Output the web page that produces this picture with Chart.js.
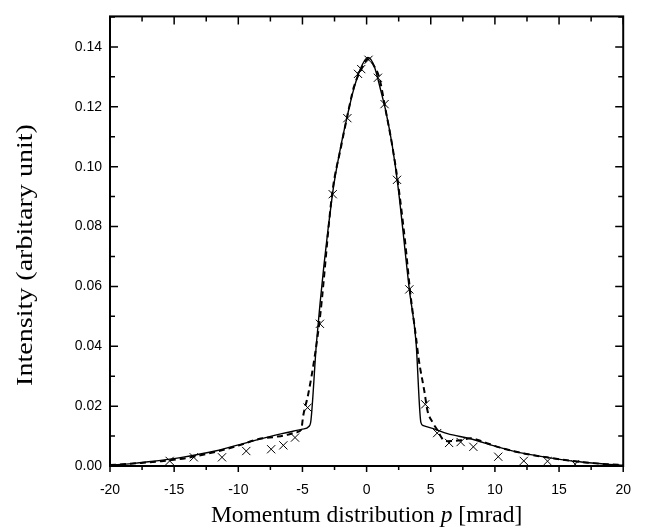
<!DOCTYPE html>
<html lang="en">
<head>
  <meta charset="UTF-8" />
  <title>Momentum distribution</title>
  <script src="https://cdn.jsdelivr.net/npm/chart.js"></script>
  <style>
    html, body { margin: 0; padding: 0; background: #fff; }
    #wrap { width: 647px; height: 529px; position: relative; }
  </style>
</head>
<body>
  <div id="wrap"><canvas id="grafico"></canvas></div>

  <script>
    // solid curve
    const solidP = [-20, -18.3, -17, -14.4, -11.8, -9.2, -6.6, -5.0, -4.5, -4.34, -3.9, -2.67, -2.0, -1.5, -1.06, -0.5, 0.1, 0.6, 1.13, 1.5, 2.0, 2.43, 3.33, 3.85, 4.23, 4.42, 5.2, 6.3, 8.1, 10.2, 12.25, 14.05, 16.6, 18.7, 20];
    const solidI = [0.0003, 0.0008, 0.0014, 0.0029, 0.005, 0.008, 0.0108, 0.0123, 0.0132, 0.0152, 0.0415, 0.0905, 0.107, 0.117, 0.125, 0.1325, 0.1365, 0.1335, 0.125, 0.1185, 0.107, 0.094, 0.059, 0.0415, 0.0146, 0.0135, 0.0125, 0.0108, 0.0091, 0.0064, 0.0042, 0.0029, 0.0014, 0.0006, 0.0003];

    // dashed curve
    const dashP = [-20, -18, -16, -14, -12, -10, -8.4, -7.0, -6.2, -5.5, -5.1, -4.94, -4.55, -4.03, -3.6, -2.67, -2.0, -1.5, -1.0, -0.6, -0.3, 0.1, 0.6, 1.0, 1.5, 2.0, 2.43, 3.0, 3.4, 3.85, 4.05, 4.5, 4.75, 5.14, 5.53, 5.9, 6.3, 7.33, 8.1, 9.0, 10.2, 12.25, 14.05, 16.6, 18.7, 20];
    const dashI = [0.0003, 0.0009, 0.0016, 0.0027, 0.0045, 0.0068, 0.0090, 0.0098, 0.0104, 0.0112, 0.0121, 0.0168, 0.024, 0.037, 0.051, 0.0915, 0.1065, 0.117, 0.1265, 0.131, 0.1335, 0.136, 0.1335, 0.1295, 0.1185, 0.107, 0.095, 0.075, 0.058, 0.043, 0.036, 0.025, 0.0184, 0.0146, 0.0119, 0.0091, 0.0083, 0.0086, 0.0093, 0.0082, 0.0064, 0.0042, 0.0029, 0.0014, 0.0006, 0.0003];

    // measured points (x marks)
    const expP = [-15.35, -13.47, -11.27, -9.38, -7.44, -6.49, -5.58, -4.6, -3.64, -2.64, -1.5, -0.67, -0.42, 0.15, 0.88, 1.4, 2.37, 3.33, 4.57, 5.5, 6.43, 7.33, 8.32, 10.26, 12.25, 14.1, 16.25];
    const expI = [0.0017, 0.0029, 0.0029, 0.005, 0.0056, 0.0069, 0.0095, 0.0195, 0.0475, 0.0908, 0.1162, 0.131, 0.1326, 0.1357, 0.1297, 0.1209, 0.0956, 0.059, 0.0206, 0.011, 0.0077, 0.008, 0.0064, 0.0031, 0.0017, 0.0016, 0.0006];

    const xTicks = [-20, -15, -10, -5, 0, 5, 10, 15, 20];
    const yTicks = [0, 0.02, 0.04, 0.06, 0.08, 0.10, 0.12, 0.14];

    const pares = (xs, ys) => xs.map((v, i) => ({ x: v, y: ys[i] }));

    // moldura, ticks para dentro e titulos dos eixos
    const moldura = {
      id: 'moldura',
      afterDraw(chart) {
        const { ctx, chartArea: a, scales: { x, y } } = chart;
        ctx.save();
        ctx.strokeStyle = '#000';
        ctx.lineWidth = 2;
        ctx.strokeRect(a.left, a.top, a.right - a.left, a.bottom - a.top);

        ctx.lineWidth = 1.5;
        ctx.beginPath();
        xTicks.forEach((v, i) => {
          const px = x.getPixelForValue(v);
          ctx.moveTo(px, a.bottom); ctx.lineTo(px, a.bottom + 6);
          ctx.moveTo(px, a.top); ctx.lineTo(px, a.top + 8);
          if (i < xTicks.length - 1) {
            const pm = x.getPixelForValue((v + xTicks[i + 1]) / 2);
            ctx.moveTo(pm, a.bottom); ctx.lineTo(pm, a.bottom + 4);
            ctx.moveTo(pm, a.top); ctx.lineTo(pm, a.top + 5);
          }
        });
        yTicks.forEach((v) => {
          const py = y.getPixelForValue(v);
          ctx.moveTo(a.left, py); ctx.lineTo(a.left + 8, py);
          ctx.moveTo(a.right, py); ctx.lineTo(a.right - 8, py);
          const pm = y.getPixelForValue(v + 0.01);
          ctx.moveTo(a.left, pm); ctx.lineTo(a.left + 5, pm);
          ctx.moveTo(a.right, pm); ctx.lineTo(a.right - 5, pm);
        });
        ctx.stroke();

        // titulo do eixo x com p em italico
        ctx.fillStyle = '#000';
        ctx.textBaseline = 'middle';
        const normal = '23.5px "Liberation Serif", "Times New Roman", serif';
        const italico = 'italic 23.5px "Liberation Serif", "Times New Roman", serif';
        const partes = [['Momentum distribution ', normal], ['p', italico], [' [mrad]', normal]];
        let total = 0;
        partes.forEach(([t, f]) => { ctx.font = f; total += ctx.measureText(t).width; });
        let cx = (a.left + a.right) / 2 - total / 2;
        ctx.textAlign = 'left';
        partes.forEach(([t, f]) => {
          ctx.font = f;
          ctx.fillText(t, cx, 516);
          cx += ctx.measureText(t).width;
        });

        // titulo do eixo y (esticado no comprimento, como na figura)
        ctx.translate(26, 255);
        ctx.rotate(-Math.PI / 2);
        ctx.scale(1.22, 1);
        ctx.font = '23px "Liberation Serif", "Times New Roman", serif';
        ctx.textAlign = 'center';
        ctx.fillText('Intensity (arbitary unit)', 0, 0);
        ctx.restore();
      }
    };

    const ctx = document.getElementById('grafico');
    new Chart(ctx, {
      type: 'scatter',
      data: {
        datasets: [
          {
            label: 'medido',
            data: pares(expP, expI),
            showLine: false,
            pointStyle: 'crossRot',
            pointRadius: 5.8,
            pointBorderWidth: 1,
            borderColor: '#000',
            backgroundColor: '#000'
          },
          {
            label: 'tracejado',
            data: pares(dashP, dashI),
            showLine: true,
            borderColor: '#000',
            borderWidth: 2,
            borderDash: [6, 4],
            pointRadius: 0,
            cubicInterpolationMode: 'monotone'
          },
          {
            label: 'continuo',
            data: pares(solidP, solidI),
            showLine: true,
            borderColor: '#000',
            borderWidth: 1.4,
            pointRadius: 0,
            cubicInterpolationMode: 'monotone'
          }
        ]
      },
      options: {
        responsive: true,
        maintainAspectRatio: false,
        animation: false,
        layout: { padding: { left: 0, right: 20, top: 10, bottom: 0 } },
        plugins: {
          legend: { display: false },
          tooltip: { enabled: false }
        },
        scales: {
          x: {
            type: 'linear',
            min: -20,
            max: 20,
            grid: { display: false, drawTicks: false },
            border: { display: false },
            afterFit: (s) => { s.height = 63; },
            afterBuildTicks: (s) => { s.ticks = xTicks.map(v => ({ value: v })); },
            ticks: {
              padding: 16,
              color: '#000',
              maxRotation: 0,
              font: { family: '"Liberation Sans", Arial, sans-serif', size: 14 },
              callback: (v) => String(v)
            }
          },
          y: {
            type: 'linear',
            min: 0,
            max: 0.1502,
            grid: { display: false, drawTicks: false },
            border: { display: false },
            afterFit: (s) => { s.width = 110; },
            afterBuildTicks: (s) => { s.ticks = yTicks.map(v => ({ value: v })); },
            ticks: {
              padding: 8,
              color: '#000',
              font: { family: '"Liberation Sans", Arial, sans-serif', size: 14 },
              callback: (v) => Number(v).toFixed(2)
            }
          }
        }
      },
      plugins: [moldura]
    });
  </script>
</body>
</html>
